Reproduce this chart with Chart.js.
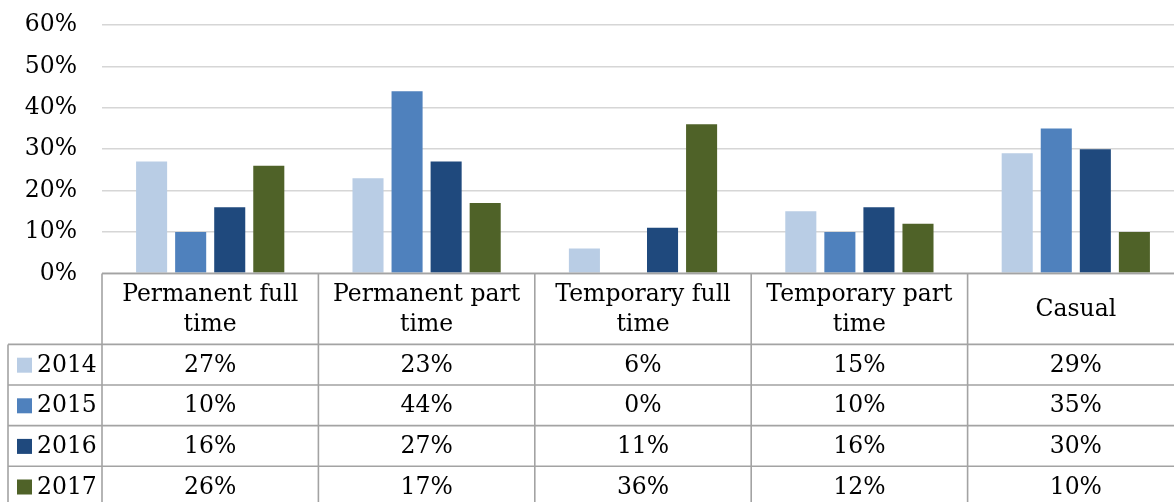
<!DOCTYPE html>
<html>
<head>
<meta charset="utf-8">
<script src="https://cdn.jsdelivr.net/npm/chart.js@4/dist/chart.umd.min.js"></script>
<style>
  html, body { margin: 0; padding: 0; background: #fff; overflow: hidden; }
  #wrap { width: 1174px; height: 502px; overflow: hidden; }
  canvas { display: block; }
</style>
</head>
<body>
<div id="wrap"><canvas id="chart" width="1184" height="502"></canvas></div>
<script>
// Employment type shares by year
const categories = ['Permanent full time', 'Permanent part time', 'Temporary full time', 'Temporary part time', 'Casual'];
const years = ['2014', '2015', '2016', '2017'];
const share2014 = [27, 23, 6, 15, 29];
const share2015 = [10, 44, 0, 10, 35];
const share2016 = [16, 27, 11, 16, 30];
const share2017 = [26, 17, 36, 12, 10];
const yTickValues = [0, 10, 20, 30, 40, 50, 60];

const seriesValues = [share2014, share2015, share2016, share2017];
const yearColors = ['#b9cde5', '#4f81bd', '#1f497d', '#4f6228'];

const FONT_FAMILY = '"DejaVu Serif", serif';
const FONT_SIZE = 23.5;
const HEADER_H = 71;
const ROW_H = 40.6;
const LEGEND_LEFT = 8;
const LINE_COLOR = '#a3a3a3';

function wrapLabel(ctx, text, maxWidth) {
  const words = text.split(' ');
  const lines = [];
  let line = '';
  for (const w of words) {
    const test = line ? line + ' ' + w : w;
    if (ctx.measureText(test).width > maxWidth && line) {
      lines.push(line);
      line = w;
    } else {
      line = test;
    }
  }
  if (line) lines.push(line);
  return lines;
}

// Data table drawn under the plot, aligned with the category columns
const dataTable = {
  id: 'dataTable',
  afterDraw(chart) {
    const ctx = chart.ctx;
    const area = chart.chartArea;
    const xs = chart.scales.x;
    const n = categories.length;
    const colW = (area.right - area.left) / n;
    const top = area.bottom;
    const headBottom = top + HEADER_H;
    const bottom = headBottom + ROW_H * years.length;

    ctx.save();
    ctx.strokeStyle = LINE_COLOR;
    ctx.lineWidth = 1.6;

    // horizontal rules
    ctx.beginPath();
    ctx.moveTo(area.left, top); ctx.lineTo(area.right, top);
    for (let r = 0; r <= years.length; r++) {
      const y = headBottom + r * ROW_H;
      ctx.moveTo(LEGEND_LEFT, y); ctx.lineTo(area.right, y);
    }
    // vertical rules
    for (let k = 0; k <= n; k++) {
      const x = area.left + k * colW;
      ctx.moveTo(x, top); ctx.lineTo(x, bottom);
    }
    ctx.moveTo(LEGEND_LEFT, headBottom); ctx.lineTo(LEGEND_LEFT, bottom);
    ctx.stroke();

    ctx.fillStyle = '#000';
    ctx.font = FONT_SIZE + 'px ' + FONT_FAMILY;
    ctx.textAlign = 'center';
    ctx.textBaseline = 'middle';

    // header: category names
    const lineH = 30;
    categories.forEach((cat, i) => {
      const cx = xs.getPixelForValue(i);
      const lines = wrapLabel(ctx, cat, colW - 20);
      const midY = top + HEADER_H / 2 + 1;
      lines.forEach((ln, j) => {
        const y = midY + (j - (lines.length - 1) / 2) * lineH;
        ctx.fillText(ln, cx, y);
      });
    });

    // value rows
    years.forEach((yr, r) => {
      const cy = headBottom + r * ROW_H + ROW_H / 2 + 1;
      seriesValues[r].forEach((v, i) => {
        ctx.fillText(v + '%', xs.getPixelForValue(i), cy);
      });
      // legend key
      ctx.fillStyle = yearColors[r];
      ctx.fillRect(17, cy - 8, 15, 15);
      ctx.fillStyle = '#000';
      ctx.textAlign = 'left';
      ctx.fillText(yr, 37, cy);
      ctx.textAlign = 'center';
    });

    ctx.restore();
  }
};

new Chart(document.getElementById('chart'), {
  type: 'bar',
  data: {
    labels: categories,
    datasets: years.map((yr, i) => ({
      label: yr,
      data: seriesValues[i],
      backgroundColor: yearColors[i],
      borderWidth: 0,
      categoryPercentage: 0.722,
      barPercentage: 0.795
    }))
  },
  options: {
    responsive: false,
    animation: false,
    devicePixelRatio: 1,
    layout: { padding: { top: 25, bottom: 228.6, left: 0, right: 0 } },
    plugins: {
      legend: { display: false },
      tooltip: { enabled: false }
    },
    scales: {
      x: { display: false },
      y: {
        min: yTickValues[0],
        max: yTickValues[yTickValues.length - 1],
        afterFit(scale) { scale.width = 102; },
        afterBuildTicks(scale) { scale.ticks = yTickValues.map(v => ({ value: v })); },
        border: { display: false },
        grid: {
          color: '#d6d6d6',
          lineWidth: 1.6,
          drawTicks: true,
          tickLength: 25,
          tickColor: 'rgba(0,0,0,0)'
        },
        ticks: {
          padding: 0,
          color: '#000',
          font: { family: FONT_FAMILY, size: FONT_SIZE },
          callback: v => v + '%'
        }
      }
    }
  },
  plugins: [dataTable]
});
</script>
</body>
</html>
